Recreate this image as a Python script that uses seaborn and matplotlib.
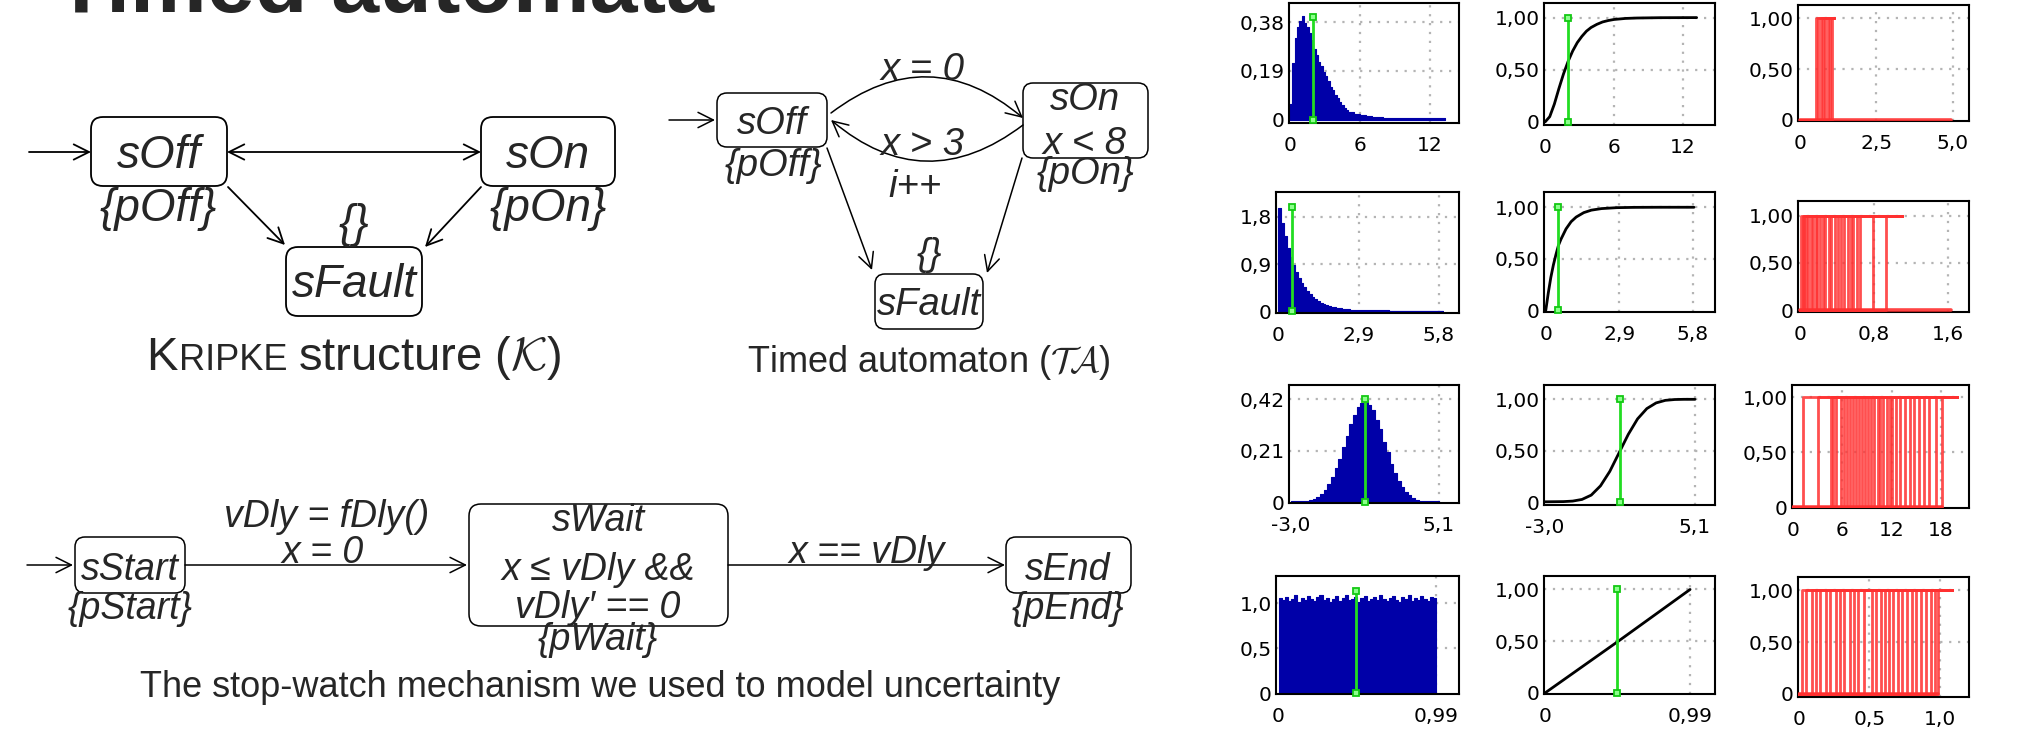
import numpy as np
import pandas as pd
import matplotlib
matplotlib.use("Agg")
import matplotlib.pyplot as plt
import seaborn as sns
from matplotlib.patches import FancyBboxPatch

# ---------------- data ----------------
# Row 1 : skewed distribution
r1_edges = [round(0.2 * i, 1) for i in range(26)] + [5.5, 6.0, 6.5, 7.0, 7.5, 8.0, 9.0, 10.0, 11.0, 12.0, 13.3]
r1_heights = [0.06, 0.22, 0.32, 0.36, 0.385, 0.403, 0.378, 0.362, 0.338, 0.312,
              0.276, 0.252, 0.224, 0.209, 0.186, 0.171, 0.151, 0.129, 0.116, 0.097,
              0.086, 0.069, 0.057, 0.047, 0.040, 0.032, 0.024, 0.018, 0.014, 0.011,
              0.010, 0.009, 0.008, 0.007, 0.007, 0.006]
r1_cdf_x = [0, 0.4, 0.8, 1.2, 1.6, 2.0, 2.4, 2.8, 3.2, 3.6, 4.0, 4.5, 5.0, 5.5, 6.0, 7.0, 8.0, 10.0, 13.2]
r1_cdf_y = [0, 0.05, 0.17, 0.32, 0.46, 0.58, 0.68, 0.76, 0.82, 0.87, 0.905, 0.935, 0.958, 0.972,
            0.982, 0.992, 0.996, 0.999, 1.0]

# Row 2 : exponential-like distribution
r2_edges = [round(0.1 * i, 1) for i in range(31)] + [3.5, 4.0, 4.5, 5.0, 5.5, 5.95]
r2_heights = [1.96, 1.68, 1.43, 1.21, 1.03, 0.88, 0.75, 0.63, 0.54, 0.46,
              0.39, 0.33, 0.28, 0.235, 0.20, 0.168, 0.143, 0.122, 0.103, 0.089,
              0.077, 0.066, 0.058, 0.051, 0.045, 0.040, 0.035, 0.031, 0.028, 0.026,
              0.022, 0.019, 0.017, 0.015, 0.014, 0.013]
r2_cdf_x = [0, 0.1, 0.2, 0.3, 0.4, 0.5, 0.6, 0.8, 1.0, 1.2, 1.5, 1.8, 2.2, 2.8, 3.5, 4.5, 5.85]
r2_cdf_y = [0, 0.17, 0.32, 0.44, 0.54, 0.63, 0.69, 0.79, 0.86, 0.905, 0.948, 0.972, 0.987, 0.996,
            0.999, 1.0, 1.0]

# Row 3 : bell-shaped distribution
r3_edges = [round(-3.0 + 0.2 * i, 1) for i in range(41)] + [5.1]
r3_heights = [0.004, 0.005, 0.004, 0.005, 0.006, 0.008, 0.013, 0.021, 0.034, 0.050,
              0.074, 0.101, 0.139, 0.178, 0.226, 0.270, 0.320, 0.355, 0.390, 0.404,
              0.415, 0.398, 0.376, 0.336, 0.297, 0.247, 0.204, 0.156, 0.121, 0.086,
              0.062, 0.040, 0.028, 0.016, 0.011, 0.007, 0.005, 0.005, 0.004, 0.004, 0.004]
r3_cdf_x = [-3.0, -2.0, -1.5, -1.0, -0.5, 0.0, 0.5, 1.0, 1.5, 2.0, 2.5, 3.0, 3.5, 4.0, 4.5, 5.1]
r3_cdf_y = [0.005, 0.007, 0.012, 0.028, 0.07, 0.16, 0.30, 0.48, 0.66, 0.81, 0.91, 0.965, 0.99,
            0.998, 1.0, 1.0]

# Row 4 : uniform distribution
r4_edges = [round(0.99 * i / 50, 4) for i in range(51)]
r4_heights = [1.06, 1.04, 1.07, 1.03, 1.05, 1.09, 1.02, 1.06, 1.04, 1.08,
              1.05, 1.03, 1.07, 1.10, 1.04, 1.06, 1.02, 1.05, 1.08, 1.03,
              1.06, 1.09, 1.04, 1.05, 1.07, 1.02, 1.06, 1.08, 1.03, 1.05,
              1.07, 1.04, 1.09, 1.05, 1.03, 1.06, 1.08, 1.04, 1.02, 1.07,
              1.05, 1.09, 1.03, 1.06, 1.04, 1.08, 1.05, 1.03, 1.07, 1.06]
r4_cdf_x = [0, 0.25, 0.5, 0.75, 0.99]
r4_cdf_y = [0, 0.25, 0.5, 0.755, 1.0]

# green marker lines (mean position, height on histogram)
mean_x = [2.0, 0.5, 1.05, 0.49]
hist_marker_top = [0.40, 1.98, 0.42, 1.14]
cdf_marker_top = [1.0, 1.0, 1.0, 1.0]

# red traces : switching times of the runs
red_switch = [
    [0.53, 0.60, 0.67, 0.75, 0.83, 0.90, 0.97, 1.04],
    [0.01, 0.03, 0.05, 0.07, 0.09, 0.12, 0.14, 0.17, 0.19, 0.22, 0.25, 0.27, 0.31,
     0.34, 0.38, 0.41, 0.44, 0.48, 0.52, 0.55, 0.58, 0.62, 0.65, 0.79, 0.93],
    [1.2, 3.0, 4.6, 4.9, 5.3, 5.8, 6.2, 6.6, 7.0, 7.3, 7.7, 8.0, 8.4, 8.8, 9.1, 9.5,
     9.8, 10.3, 10.6, 11.0, 11.4, 11.8, 12.1, 12.5, 13.0, 13.6, 14.2, 14.7, 15.3, 15.9,
     16.6, 17.4, 18.1],
    [0.02, 0.05, 0.09, 0.12, 0.15, 0.19, 0.22, 0.26, 0.29, 0.32, 0.36, 0.39, 0.42, 0.46,
     0.52, 0.55, 0.58, 0.61, 0.64, 0.67, 0.70, 0.73, 0.77, 0.80, 0.83, 0.87, 0.90, 0.94,
     0.97, 0.99],
]
red_top_end = [1.1, 1.1, 20.0, 1.09]
red_bottom_end = [4.95, 1.63, 18.1, 0.99]

# tick labels
hist_xticks = [[0, 6, 12], [0, 2.9, 5.8], [-3.0, 5.1], [0, 0.99]]
hist_xlabels = [["0", "6", "12"], ["0", "2,9", "5,8"], ["-3,0", "5,1"], ["0", "0,99"]]
hist_yticks = [[0, 0.19, 0.38], [0, 0.9, 1.8], [0, 0.21, 0.42], [0, 0.5, 1.0]]
hist_ylabels = [["0", "0,19", "0,38"], ["0", "0,9", "1,8"], ["0", "0,21", "0,42"], ["0", "0,5", "1,0"]]
cdf_yticks = [0, 0.5, 1.0]
cdf_ylabels = ["0", "0,50", "1,00"]
red_xticks = [[0, 2.5, 5.0], [0, 0.8, 1.6], [0, 6, 12, 18], [0, 0.5, 1.0]]
red_xlabels = [["0", "2,5", "5,0"], ["0", "0,8", "1,6"], ["0", "6", "12", "18"], ["0", "0,5", "1,0"]]

hist_edges = [r1_edges, r2_edges, r3_edges, r4_edges]
hist_heights = [r1_heights, r2_heights, r3_heights, r4_heights]
cdf_x = [r1_cdf_x, r2_cdf_x, r3_cdf_x, r4_cdf_x]
cdf_y = [r1_cdf_y, r2_cdf_y, r3_cdf_y, r4_cdf_y]

# ---------------- layout ----------------
W, H = 2018, 734
# panel frames in pixels: (left, top, right, bottom)
PANELS = [
    [(1289, 3, 1459, 123), (1544, 3, 1715, 125), (1798, 5, 1969, 121)],
    [(1276, 192, 1459, 313), (1544, 192, 1715, 312), (1798, 201, 1969, 312)],
    [(1289, 385, 1459, 503), (1544, 385, 1715, 505), (1792, 385, 1969, 508)],
    [(1276, 576, 1459, 694), (1544, 576, 1715, 694), (1798, 577, 1969, 697)],
]
LIMS = [
    [((-0.1, 14.5), (-0.012, 0.454)), ((-0.1, 14.8), (-0.03, 1.14)), ((-0.07, 5.54), (-0.01, 1.13))],
    [((-0.09, 6.54), (-0.03, 2.27)), ((-0.07, 6.68), (-0.016, 1.148)), ((-0.02, 1.83), (-0.02, 1.154))],
    [((-3.1, 6.2), (-0.003, 0.478)), ((-3.05, 6.18), (-0.026, 1.139)), ((-0.1, 21.4), (-0.009, 1.112))],
    [((-0.016, 1.135), (-0.011, 1.307)), ((-0.007, 1.16), (-0.01, 1.13)), ((-0.01, 1.21), (-0.03, 1.13))],
]

BLUE = "#0000a8"
GREEN = "#22dd22"
RED = "#ff3030"
GRID = "#b4b4b4"

sns.set_theme(style="white")
plt.rcParams["font.family"] = ["Liberation Sans", "DejaVu Sans"]
plt.rcParams["mathtext.fontset"] = "cm"

fig = plt.figure(figsize=(W / 100, H / 100), dpi=100)
fig.patch.set_facecolor("white")

# ---------------- diagrams (pixel coordinate canvas) ----------------
ax = fig.add_axes([0, 0, 1, 1])
ax.set_xlim(0, W)
ax.set_ylim(H, 0)
ax.axis("off")


def box(x0, y0, x1, y1, r=12, lw=1.3):
    ax.add_patch(FancyBboxPatch((x0, y0), x1 - x0, y1 - y0,
                                boxstyle=f"round,pad=0,rounding_size={r}",
                                ec="black", fc="white", lw=lw, zorder=2))


def arrow(p0, p1, style="->", rad=0.0, lw=1.3):
    ax.annotate("", xy=p1, xytext=p0, xycoords="data", textcoords="data",
                arrowprops=dict(arrowstyle=style + ",head_length=0.5,head_width=0.25",
                                color="black", lw=lw, shrinkA=0, shrinkB=0,
                                mutation_scale=22, connectionstyle=f"arc3,rad={rad}"),
                zorder=3)


def label(x, y, s, size, italic=True, ha="center", **kw):
    ax.text(x, y, s, fontsize=size, fontstyle="italic" if italic else "normal",
            ha=ha, va="baseline", zorder=4, **kw)


# title (cut by the top edge)
ax.text(55, 12, "Timed automata", fontsize=62, fontweight="bold", ha="left", va="baseline")

# Kripke structure
KS = 33
arrow((29, 152), (91, 152))
box(91, 117, 227, 186)
label(159, 168, "sOff", KS)
label(158, 221, "{pOff}", KS)
box(481, 117, 615, 186)
label(548, 168, "sOn", KS)
label(548, 221, "{pOn}", KS)
arrow((227, 152), (481, 152), style="<->")
box(286, 247, 422, 316)
label(354, 297, "sFault", KS)
label(354, 237, "{}", KS)
arrow((228, 187), (285, 245))
arrow((481, 187), (425, 247))

renderer = fig.canvas.get_renderer()


def runs_text(xc, y, runs, gaps):
    objs = [ax.text(0, y, s, fontsize=fs, ha="left", va="baseline") for s, fs in runs]
    widths = [t.get_window_extent(renderer).width for t in objs]
    total = sum(widths) + sum(gaps)
    x = xc - total / 2
    for k, (t, w) in enumerate(zip(objs, widths)):
        t.set_x(x)
        x += w + (gaps[k] if k < len(gaps) else 0)


runs_text(354, 370, [("K", 34), ("RIPKE", 26), ("structure ($\\mathcal{K}$)", 34)], [1, 11])

# Timed automaton
TS = 27.5
arrow((669, 120), (715, 120), lw=1.1)
box(717, 93, 827, 147, r=10, lw=1.1)
label(772, 134, "sOff", TS)
label(773, 176, "{pOff}", TS)
box(1023, 83, 1148, 158, r=10, lw=1.1)
label(1085, 110, "sOn", TS)
label(1085, 154, "x < 8", TS)
label(1085, 184, "{pOn}", TS)
arrow((831, 113), (1023, 118), rad=-0.4, lw=1.1)
arrow((1023, 125), (831, 120), rad=-0.4, lw=1.1)
label(923, 80, "x = 0", TS)
label(923, 155, "x > 3", TS)
label(915, 197, "i++", TS)
box(875, 274, 983, 329, r=10, lw=1.1)
label(929, 315, "sFault", TS)
label(929, 265, "{}", TS)
arrow((827, 148), (872, 270), lw=1.1)
arrow((1022, 158), (987, 273), lw=1.1)
ax.text(929, 372, "Timed automaton ($\\mathcal{TA}$)", fontsize=26, ha="center", va="baseline")

# stop-watch
SS = 27
arrow((27, 565), (73, 565), lw=1.1)
box(75, 537, 185, 593, r=10, lw=1.1)
label(130, 580, "sStart", SS)
label(130, 619, "{pStart}", SS)
arrow((185, 565), (467, 565), lw=1.1)
label(327, 527, "vDly = fDly()", SS)
label(323, 563, "x = 0", SS)
box(469, 504, 728, 626, r=12, lw=1.1)
label(598, 531, "sWait", SS)
label(598, 580, "x \u2264 vDly &&", SS)
label(598, 618, "vDly\u2032 == 0", SS)
label(598, 650, "{pWait}", SS)
arrow((728, 565), (1005, 565), lw=1.1)
label(867, 563, "x == vDly", SS)
box(1006, 537, 1131, 593, r=10, lw=1.1)
label(1068, 580, "sEnd", SS)
label(1068, 619, "{pEnd}", SS)
ax.text(600, 697, "The stop-watch mechanism we used to model uncertainty", fontsize=26,
        ha="center", va="baseline")


# ---------------- small charts ----------------
def px_axes(l, t, r, b):
    return fig.add_axes([l / W, 1 - b / H, (r - l) / W, (b - t) / H])


def style(a, lims, xt, xl, yt, yl):
    a.set_xlim(*lims[0])
    a.set_ylim(*lims[1])
    a.set_xticks(xt)
    a.set_xticklabels(xl)
    a.set_yticks(yt)
    a.set_yticklabels(yl)
    a.set_xlabel("")
    a.set_ylabel("")
    a.tick_params(length=0, labelsize=14.5, labelfontfamily="DejaVu Sans", labelcolor="black")
    a.tick_params(axis="x", pad=9.5)
    a.tick_params(axis="y", pad=3)
    for s in a.spines.values():
        s.set_visible(True)
        s.set_color("black")
        s.set_linewidth(1.5)
    a.grid(False)
    for v in xt[1:]:
        a.axvline(v, color=GRID, ls=(0, (1, 3)), lw=1.6, zorder=0.5)
    for v in yt:
        if v > 0:
            a.axhline(v, color=GRID, ls=(0, (1, 3)), lw=1.6, zorder=0.5)
    a.set_facecolor("white")


def green(a, x, top):
    a.plot([x, x], [0, top], color=GREEN, lw=2, marker="s", ms=5,
           mfc="#8cff8c", mec="#14c814", mew=1.3, zorder=6, clip_on=False)


for i in range(4):
    # histogram
    a = px_axes(*PANELS[i][0])
    e = [float(v) for v in hist_edges[i]]
    centers = [(e[k] + e[k + 1]) / 2 for k in range(len(e) - 1)]
    df = pd.DataFrame({"x": centers, "w": hist_heights[i]})
    sns.histplot(data=df, x="x", weights="w", bins=e, ax=a, element="step",
                 fill=True, color=BLUE, alpha=1.0, linewidth=0.8, zorder=2)
    green(a, mean_x[i], hist_marker_top[i])
    style(a, LIMS[i][0], hist_xticks[i], hist_xlabels[i], hist_yticks[i], hist_ylabels[i])

    # cumulative curve
    a = px_axes(*PANELS[i][1])
    sns.lineplot(x=cdf_x[i], y=cdf_y[i], ax=a, color="black", lw=2, zorder=3)
    green(a, mean_x[i], cdf_marker_top[i])
    style(a, LIMS[i][1], hist_xticks[i], hist_xlabels[i], cdf_yticks, cdf_ylabels)

    # red run traces
    a = px_axes(*PANELS[i][2])
    for d in red_switch[i]:
        a.plot([0, d, d, red_top_end[i]], [0, 0, 1, 1], color=RED, lw=2.0, alpha=0.85, zorder=3)
    a.plot([0, red_bottom_end[i]], [0, 0], color=RED, lw=2.6, alpha=0.9, zorder=3)
    style(a, LIMS[i][2], red_xticks[i], red_xlabels[i], cdf_yticks, cdf_ylabels)

fig.savefig("out.png", dpi=100, facecolor="white")
